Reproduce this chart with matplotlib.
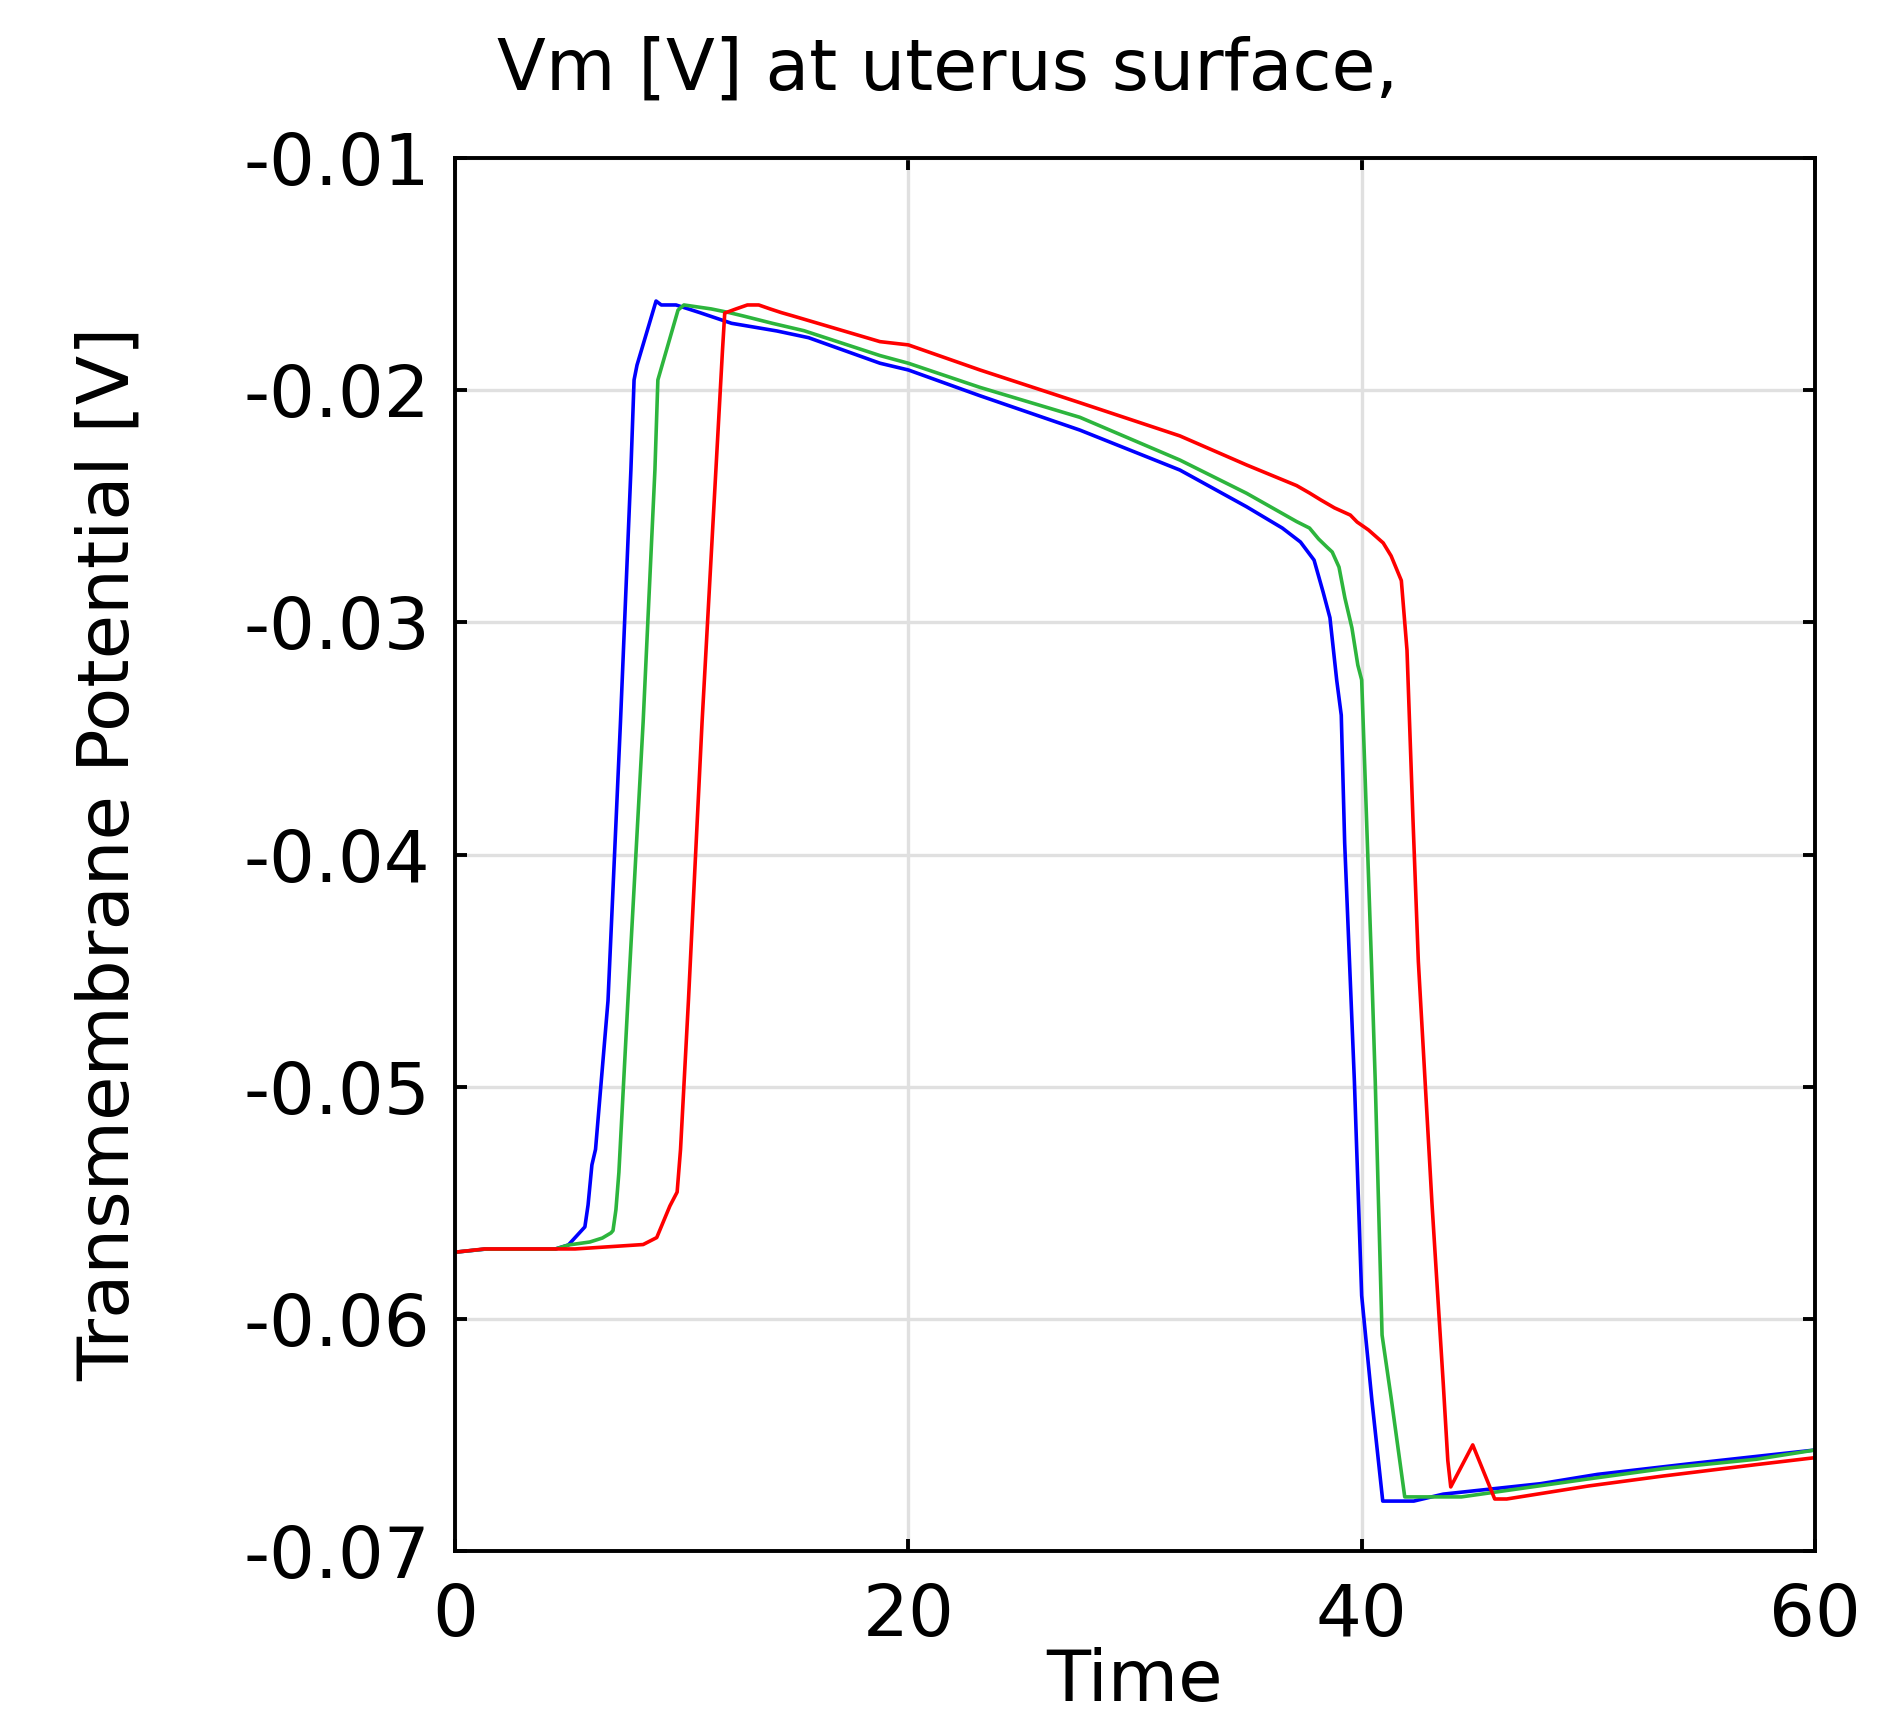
import matplotlib
matplotlib.use("Agg")
import matplotlib.pyplot as plt

plt.rcParams.update({"font.family": "DejaVu Sans", "axes.unicode_minus": False})

BLUE, GREEN, RED = "#0000ff", "#2db53d", "#ff0000"

# time / transmembrane potential (three surface points)
t_blue = [0, 1.3, 4.4, 5.0, 5.73, 5.87, 6.04, 6.2, 6.75, 7.3, 7.76, 7.9, 8.03, 8.87,
          9.1, 9.75, 10.8, 12.2, 14.2, 15.6, 18.75, 20, 23.16, 27.57, 31.98, 34.92,
          36.5, 37.3, 37.9, 38.3, 38.6, 38.9, 39.1, 39.25, 39.68, 40.0, 40.45, 40.93,
          42.3, 43.6, 47.9, 50.4, 54.4, 58.4, 60]
v_blue = [-0.05713, -0.0570, -0.0570, -0.05682, -0.05604, -0.0551, -0.05337, -0.0527,
          -0.0463, -0.0343, -0.02344, -0.01956, -0.01892, -0.01616, -0.01633, -0.01633,
          -0.01666, -0.01712, -0.01745, -0.01774, -0.01884, -0.01913, -0.02024, -0.02172,
          -0.02344, -0.02502, -0.02594, -0.02654, -0.02732, -0.0287, -0.0298, -0.0325,
          -0.0340, -0.0395, -0.0498, -0.0590, -0.0635, -0.06785, -0.06785, -0.06755,
          -0.0671, -0.0667, -0.06625, -0.06582, -0.06565]

t_green = [0, 1.3, 4.4, 5.0, 5.95, 6.5, 6.88, 6.97, 7.1, 7.23, 7.63, 8.3, 8.82, 8.95,
           9.84, 10.1, 11.3, 12.1, 12.7, 14.0, 15.4, 18.75, 20, 23.16, 27.57, 31.98,
           34.92, 37.13, 37.7, 38.1, 38.47, 38.7, 39.0, 39.26, 39.57, 39.83, 40.0,
           40.16, 40.43, 40.6, 40.9, 41.3, 41.9, 44.4, 49.9, 53.4, 57.4, 60]
v_green = [-0.05713, -0.0570, -0.0570, -0.05682, -0.05669, -0.05652, -0.0563, -0.0562,
           -0.0553, -0.0537, -0.04627, -0.0343, -0.02344, -0.01956, -0.01655, -0.01633,
           -0.0165, -0.01666, -0.0168, -0.01712, -0.01744, -0.01851, -0.01884, -0.01988,
           -0.02117, -0.02301, -0.02444, -0.02566, -0.02594, -0.02641, -0.02676, -0.02697,
           -0.02762, -0.02895, -0.03024, -0.03184, -0.03248, -0.0369, -0.0446, -0.0498,
           -0.0607, -0.0634, -0.06767, -0.06767, -0.06691, -0.06644, -0.06605, -0.06565]

t_red = [0, 1.3, 5.3, 8.3, 8.9, 9.48, 9.8, 9.95, 10.3, 10.9, 11.51, 11.8, 11.9, 12.4,
         12.9, 13.4, 13.9, 14.4, 14.9, 18.75, 20, 23.16, 27.57, 31.98, 34.92, 37.13,
         37.7, 38.2, 38.8, 39.5, 39.8, 40.3, 40.95, 41.3, 41.75, 42.0, 42.26, 42.5,
         42.8, 43.1, 43.6, 43.8, 43.93, 44.9, 45.87, 46.4, 50.0, 53.3, 57.4, 60]
v_red = [-0.05713, -0.05699, -0.05699, -0.0568, -0.0565, -0.05514, -0.05454, -0.0527,
         -0.04627, -0.0343, -0.02344, -0.0183, -0.01668, -0.0165, -0.01633, -0.01633,
         -0.0165, -0.01666, -0.0168, -0.01791, -0.01805, -0.01913, -0.02054, -0.02197,
         -0.02322, -0.02411, -0.02443, -0.02473, -0.02507, -0.02538, -0.02568, -0.02602,
         -0.02658, -0.02714, -0.0282, -0.0312, -0.0384, -0.0446, -0.0498, -0.0550,
         -0.0628, -0.0661, -0.06724, -0.06543, -0.06776, -0.06776, -0.0672, -0.06677,
         -0.06628, -0.06598]

x_ticks = [0, 20, 40, 60]
y_ticks = [-0.07, -0.06, -0.05, -0.04, -0.03, -0.02, -0.01]
y_ticklabels = ["-0.07", "-0.06", "-0.05", "-0.04", "-0.03", "-0.02", "-0.01"]

FS = 52
W, H = 1886, 1714
fig = plt.figure(figsize=(W / 100, H / 100), dpi=100)
ax = fig.add_axes([455 / W, 1 - 1551 / H, (1815 - 455) / W, (1551 - 158) / H])

ax.plot(t_blue, v_blue, color=BLUE, lw=2.6)
ax.plot(t_green, v_green, color=GREEN, lw=2.6)
ax.plot(t_red, v_red, color=RED, lw=2.6)

ax.set_xlim(0, 60)
ax.set_ylim(-0.07, -0.01)
ax.set_xticks(x_ticks)
ax.set_yticks(y_ticks)
ax.set_yticklabels(y_ticklabels)
ax.grid(True, color="#e0e0e0", lw=2.4)
ax.set_axisbelow(True)
for s in ax.spines.values():
    s.set_linewidth(2.8)
ax.tick_params(direction="in", length=8.5, width=2.8, top=True, right=True, labelsize=FS)
ax.tick_params(axis="x", pad=22)
ax.tick_params(axis="y", pad=18)

fig.text(948 / W, 1 - 90 / H, "Vm [V] at uterus surface,", fontsize=51.4, ha="center", va="baseline")
fig.text(1135 / W, 1 - 1701 / H, "Time", fontsize=FS, ha="center", va="baseline")
fig.text(129 / W, 1 - 854 / H, "Transmembrane Potential [V]", fontsize=FS, rotation=90,
         rotation_mode="anchor", ha="center", va="baseline")

fig.savefig("out.png", dpi=100)
